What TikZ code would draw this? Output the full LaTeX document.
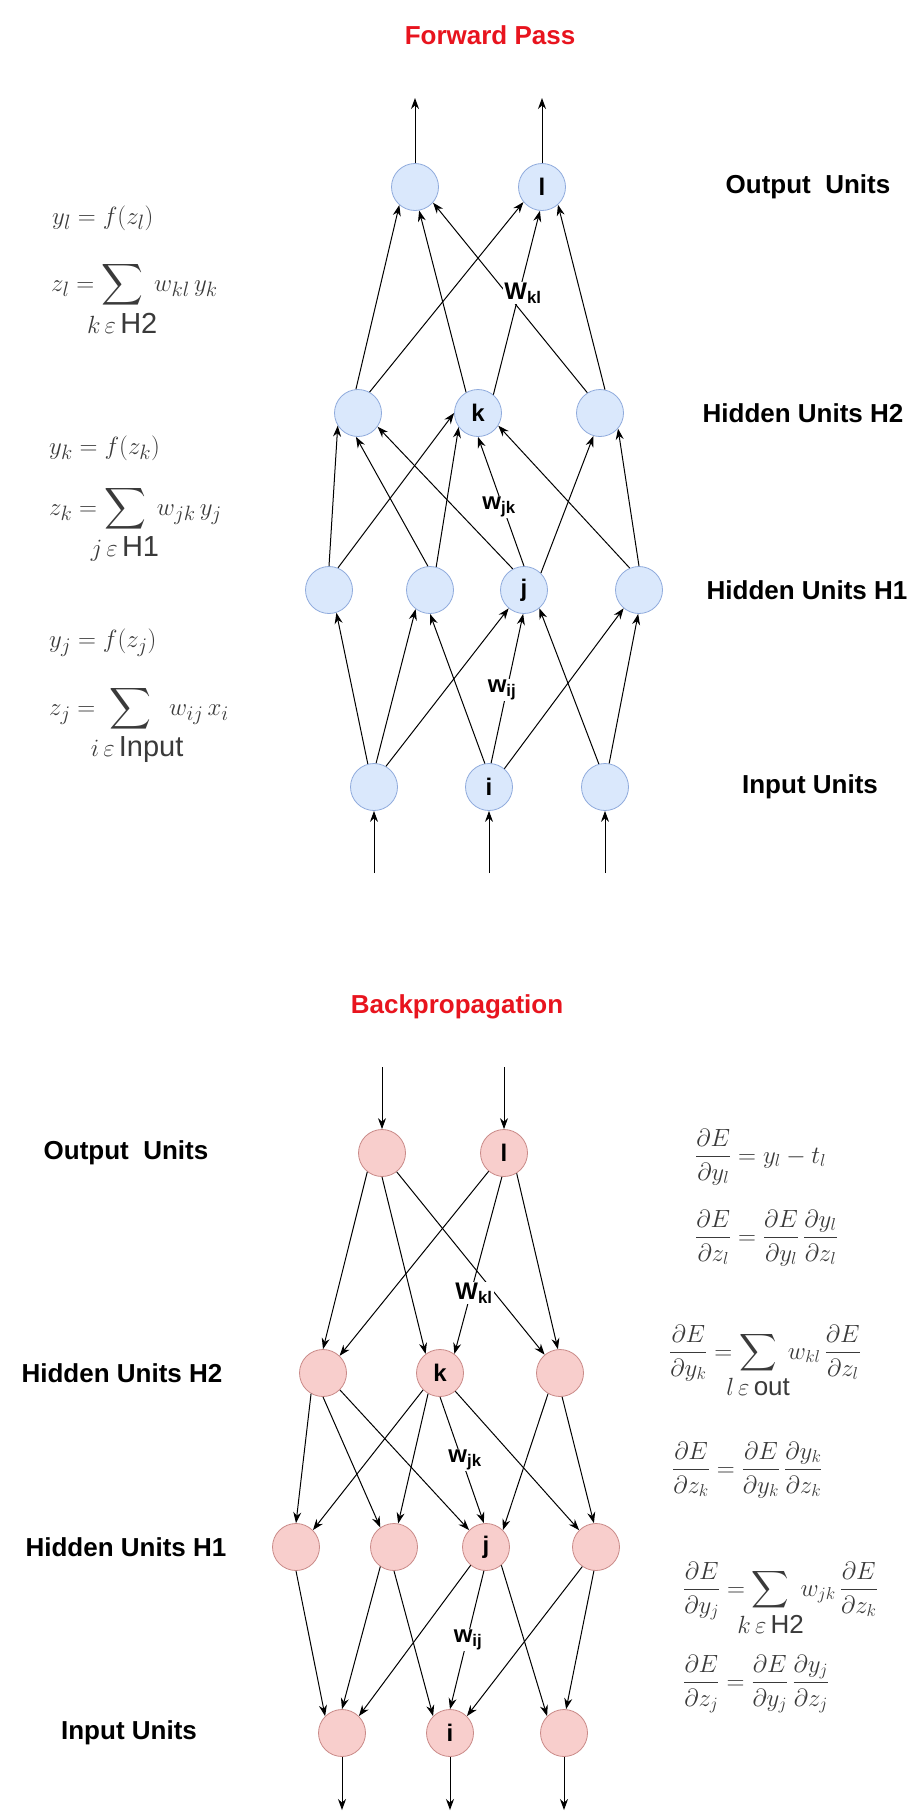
\documentclass[tikz,border=0pt]{standalone}
\usepackage{amsmath,amssymb,mathtools}
\usepackage{fontspec}
\setmainfont{Liberation Sans}
\usepackage{tikz}
\usetikzlibrary{arrows.meta}
\definecolor{fwdfill}{HTML}{DAE8FC}
\definecolor{fwdline}{HTML}{8FAADC}
\definecolor{bwdfill}{HTML}{F8CECC}
\definecolor{bwdline}{HTML}{C98A88}
\definecolor{titlered}{HTML}{E8141E}
\definecolor{eqgray}{HTML}{3A3A3A}
\tikzset{
    unit/.style={circle, draw, line width=0.8pt, minimum size=47pt, inner sep=0pt, font=\fontsize{24}{24}\selectfont\bfseries},
    fwd/.style={unit, draw=fwdline, fill=fwdfill},
    bwd/.style={unit, draw=bwdline, fill=bwdfill},
    arrow/.style={-{Stealth[length=11pt, width=8pt]}, line width=1pt, black},
    layer/.style={font=\fontsize{26}{26}\selectfont\bfseries},
    heading/.style={font=\fontsize{26}{26}\selectfont\bfseries, text=titlered},
    weight/.style={fill=white, inner sep=1pt, font=\fontsize{24}{24}\selectfont\bfseries},
    eq/.style={text=eqgray, anchor=base west, inner sep=0pt, font=\fontsize{29}{33}\selectfont},
    deq/.style={eq, font=\fontsize{26}{30}\selectfont}
}

\begin{document}
\begin{tikzpicture}[x=1pt, y=-1pt]
        \useasboundingbox (0,0) rectangle (912,1812);

        % Forward pass: units
        \node[heading] (FT) at (490,35) {Forward Pass};
        \node[fwd] (FO1) at (415,187) {};
        \node[fwd] (FO2) at (542,187) {l};
        \node[fwd] (FH21) at (358,413) {};
        \node[fwd] (FH22) at (478,413) {k};
        \node[fwd] (FH23) at (600,413) {};
        \node[fwd] (FH11) at (329,590) {};
        \node[fwd] (FH12) at (430,590) {};
        \node[fwd] (FH13) at (524,590) {j};
        \node[fwd] (FH14) at (639,590) {};
        \node[fwd] (FI1) at (374,787) {};
        \node[fwd] (FI2) at (489,787) {i};
        \node[fwd] (FI3) at (605,787) {};
        \coordinate (FY1) at (415,98);
        \coordinate (FY2) at (542,98);
        \coordinate (FX1) at (374,873);
        \coordinate (FX2) at (489,873);
        \coordinate (FX3) at (605,873);

        % Forward pass: layer names
        \node[layer] (FLout) at (808,187) {Output~~Units};
        \node[layer] (FLh2) at (803,413) {Hidden Units H2};
        \node[layer] (FLh1) at (807,590) {Hidden Units H1};
        \node[layer] (FLin) at (810,787) {Input Units};

        % Forward pass: connections
        \draw[arrow] (FO1.90) -- (FY1);
        \draw[arrow] (FO2.90) -- (FY2);
        \draw[arrow] (FH21.95) -- (FO1.-131);
        \draw[arrow] (FH22.120) -- (FO1.-80);
        \draw[arrow] (FH23.122) -- (FO1.-41);
        \draw[arrow] (FH21.61) -- (FO2.-141);
        \draw[arrow] (FH22.50) -- (FO2.-95);
        \draw[arrow] (FH23.78) -- (FO2.-48);
        \draw[arrow] (FH11.90) -- (FH21.-148);
        \draw[arrow] (FH11.68) -- (FH22.180);
        \draw[arrow] (FH12.95) -- (FH21.-95);
        \draw[arrow] (FH12.75) -- (FH22.-144);
        \draw[arrow] (FH13.118) -- (FH21.-35);
        \draw[arrow] (FH13.90) -- (FH22.-90);
        \draw[arrow] (FH13.45) -- (FH23.-106);
        \draw[arrow] (FH14.113) -- (FH22.-32);
        \draw[arrow] (FH14.90) -- (FH23.-41);
        \draw[arrow] (FI1.105) -- (FH11.-72);
        \draw[arrow] (FI1.85) -- (FH12.-127);
        \draw[arrow] (FI1.60) -- (FH13.-130);
        \draw[arrow] (FI2.100) -- (FH12.-90);
        \draw[arrow] (FI2.85) -- (FH13.-92);
        \draw[arrow] (FI2.50) -- (FH14.-130);
        \draw[arrow] (FI3.105) -- (FH13.-50);
        \draw[arrow] (FI3.80) -- (FH14.-92);
        \draw[arrow] (FX1) -- (FI1.-90);
        \draw[arrow] (FX2) -- (FI2.-90);
        \draw[arrow] (FX3) -- (FI3.-90);
        \node[weight] (FWkl) at (523,293) {W\textsubscript{kl}};
        \node[weight] (FWjk) at (499,507) {w\textsubscript{jk}};
        \node[weight] (FWij) at (502,690) {w\textsubscript{ij}};

        % Forward pass: equations
        \node[eq] (FE1) at (52,224) {$y_l = f(z_l)$};
        \node[eq] (FE2) at (51,291) {$\displaystyle z_l = \sum_{\mathclap{\textstyle k\,\varepsilon\,\mathrm{H2}}}\; w_{kl}\,y_k$};
        \node[eq] (FE3) at (49,454) {$y_k = f(z_k)$};
        \node[eq] (FE4) at (49,515) {$\displaystyle z_k = \sum_{\mathclap{\textstyle j\,\varepsilon\,\mathrm{H1}}}\; w_{jk}\,y_j$};
        \node[eq] (FE5) at (49,647) {$y_j = f(z_j)$};
        \node[eq] (FE6) at (49,715) {$\displaystyle z_j = \;\sum_{\mathclap{\textstyle \;\;i\,\varepsilon\,\mathrm{Input}}}\;\; w_{ij}\,x_i$};

        % Backpropagation: units
        \node[heading] (BT) at (457,1007) {Backpropagation};
        \node[bwd] (BO1) at (382,1153) {};
        \node[bwd] (BO2) at (504,1153) {l};
        \node[bwd] (BH21) at (323,1373) {};
        \node[bwd] (BH22) at (440,1373) {k};
        \node[bwd] (BH23) at (560,1373) {};
        \node[bwd] (BH11) at (296,1547) {};
        \node[bwd] (BH12) at (394,1547) {};
        \node[bwd] (BH13) at (486,1547) {j};
        \node[bwd] (BH14) at (596,1547) {};
        \node[bwd] (BI1) at (342,1733) {};
        \node[bwd] (BI2) at (450,1733) {i};
        \node[bwd] (BI3) at (564,1733) {};
        \coordinate (BE1) at (382,1067);
        \coordinate (BE2) at (504,1067);
        \coordinate (BX1) at (342,1810);
        \coordinate (BX2) at (450,1810);
        \coordinate (BX3) at (564,1810);

        % Backpropagation: layer names
        \node[layer] (BLout) at (126,1153) {Output~~Units};
        \node[layer] (BLh2) at (122,1373) {Hidden Units H2};
        \node[layer] (BLh1) at (126,1547) {Hidden Units H1};
        \node[layer] (BLin) at (129,1733) {Input Units};

        % Backpropagation: connections
        \draw[arrow] (BE1) -- (BO1.90);
        \draw[arrow] (BE2) -- (BO2.90);
        \draw[arrow] (BO1.-128) -- (BH21.90);
        \draw[arrow] (BO1.-90) -- (BH22.127);
        \draw[arrow] (BO1.-52) -- (BH23.130);
        \draw[arrow] (BO2.-130) -- (BH21.46);
        \draw[arrow] (BO2.-95) -- (BH22.53);
        \draw[arrow] (BO2.-58) -- (BH23.95);
        \draw[arrow] (BH21.-120) -- (BH11.90);
        \draw[arrow] (BH21.-90) -- (BH12.125);
        \draw[arrow] (BH21.-45) -- (BH13.135);
        \draw[arrow] (BH22.-135) -- (BH11.45);
        \draw[arrow] (BH22.-120) -- (BH12.80);
        \draw[arrow] (BH22.-90) -- (BH13.95);
        \draw[arrow] (BH22.-50) -- (BH14.135);
        \draw[arrow] (BH23.-120) -- (BH13.45);
        \draw[arrow] (BH23.-85) -- (BH14.95);
        \draw[arrow] (BH11.-90) -- (BI1.135);
        \draw[arrow] (BH12.-125) -- (BI1.90);
        \draw[arrow] (BH12.-90) -- (BI2.135);
        \draw[arrow] (BH13.-130) -- (BI1.45);
        \draw[arrow] (BH13.-95) -- (BI2.90);
        \draw[arrow] (BH13.-50) -- (BI3.135);
        \draw[arrow] (BH14.-125) -- (BI2.45);
        \draw[arrow] (BH14.-95) -- (BI3.85);
        \draw[arrow] (BI1.-90) -- (BX1);
        \draw[arrow] (BI2.-90) -- (BX2);
        \draw[arrow] (BI3.-90) -- (BX3);
        \node[weight] (BWkl) at (474,1293) {W\textsubscript{kl}};
        \node[weight] (BWjk) at (465,1460) {w\textsubscript{jk}};
        \node[weight] (BWij) at (468,1640) {w\textsubscript{ij}};

        % Backpropagation: equations
        \node[deq] (BE1q) at (695,1163) {$\dfrac{\partial E}{\partial y_l} = y_l - t_l$};
        \node[deq] (BE2q) at (695,1244) {$\dfrac{\partial E}{\partial z_l} = \dfrac{\partial E}{\partial y_l}\,\dfrac{\partial y_l}{\partial z_l}$};
        \node[deq] (BE3q) at (669,1359) {$\displaystyle \frac{\partial E}{\partial y_k} = \sum_{\mathclap{\textstyle l\,\varepsilon\,\mathrm{out}}}\; w_{kl}\,\frac{\partial E}{\partial z_l}$};
        \node[deq] (BE4q) at (672,1476) {$\dfrac{\partial E}{\partial z_k} = \dfrac{\partial E}{\partial y_k}\,\dfrac{\partial y_k}{\partial z_k}$};
        \node[deq] (BE5q) at (683,1596) {$\displaystyle \frac{\partial E}{\partial y_j} = \sum_{\mathclap{\textstyle k\,\varepsilon\,\mathrm{H2}}}\; w_{jk}\,\frac{\partial E}{\partial z_k}$};
        \node[deq] (BE6q) at (683,1689) {$\dfrac{\partial E}{\partial z_j} = \dfrac{\partial E}{\partial y_j}\,\dfrac{\partial y_j}{\partial z_j}$};
    \end{tikzpicture}
\end{document}
